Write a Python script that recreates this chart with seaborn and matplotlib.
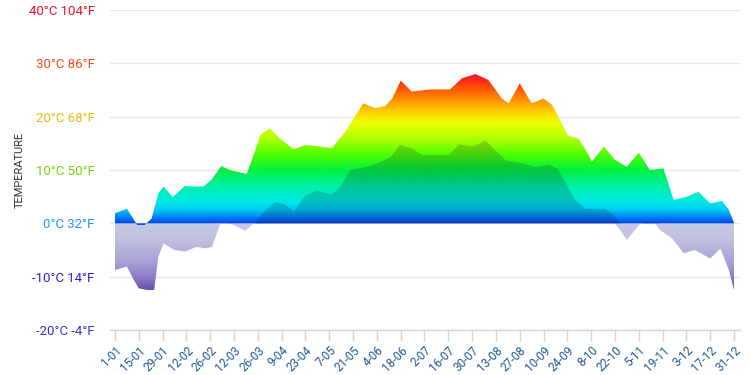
import numpy as np
import pandas as pd
import matplotlib
matplotlib.use("Agg")
import matplotlib.pyplot as plt
import seaborn as sns
from matplotlib.colors import LinearSegmentedColormap

# ---------------------------------------------------------------------
# values (day of year -> temperature in C)
max_days = [0, 7, 10, 13, 17.5, 21.5, 25.5, 28.5, 34, 41, 46, 52, 57, 62.5, 67.5,
            77.5, 81.5, 85.5, 91, 97, 105, 112, 120.5, 127.5, 135.5, 141, 146,
            153, 159, 163, 168, 174.5, 185, 197, 204, 212, 219.5, 227.5, 231.5,
            238, 245, 252, 257, 266.5, 272.5, 276.5, 280.5, 287.5, 294, 301,
            308, 314.5, 322.5, 328.5, 335.5, 343, 350, 357, 361, 364]
max_temp = [1.9, 2.75, 1.25, -0.3, -0.3, 0.9, 5.6, 6.9, 4.9, 7.0, 6.9, 6.9, 8.25,
            10.75, 10.0, 9.25, 12.8, 16.6, 17.8, 15.9, 13.9, 14.7, 14.4, 14.1,
            17.2, 20.0, 22.5, 21.6, 22.0, 23.4, 26.75, 24.7, 25.1, 25.1, 27.2,
            28.0, 26.9, 23.4, 22.5, 26.25, 22.5, 23.4, 22.2, 16.4, 15.9, 13.9,
            11.6, 14.4, 11.9, 10.6, 13.25, 10.0, 10.3, 4.4, 4.9, 5.9, 3.75, 4.2,
            2.5, 0.1]

min_days = [0, 7, 11, 14, 19, 23, 25.5, 28.5, 35, 41, 48, 53, 57, 62, 67.5, 72.5,
            76.5, 81.5, 86.5, 91, 94, 99, 105, 111, 118.5, 126.5, 131.5, 138,
            147, 156, 162, 167.5, 174.5, 180.5, 196, 202, 210, 217.5, 222.5,
            229.5, 239, 247, 255, 260, 265, 270.5, 276.5, 288, 294, 297, 301,
            309, 312, 317.5, 320.5, 327.5, 334.5, 341, 350, 356, 361, 364]
min_temp = [-8.75, -8.1, -10.6, -12.2, -12.5, -12.5, -6.25, -3.75, -5.0, -5.3,
            -4.4, -4.7, -4.4, 0.0, 0.1, -0.75, -1.4, 0.0, 1.9, 3.25, 4.1, 3.75,
            2.4, 5.1, 6.25, 5.5, 6.6, 10.1, 10.6, 11.6, 12.6, 14.8, 14.1, 12.9,
            12.9, 14.9, 14.5, 15.6, 14.1, 11.9, 11.4, 10.6, 11.1, 10.3, 7.5, 4.4,
            2.8, 2.8, 1.25, -1.25, -3.1, 0.0, 0.3, 0.3, -1.25, -2.8, -5.6, -5.0,
            -6.6, -4.7, -8.75, -12.5]

tick_labels = ["1-01", "15-01", "29-01", "12-02", "26-02", "12-03", "26-03",
               "9-04", "23-04", "7-05", "21-05", "4-06", "18-06", "2-07", "16-07",
               "30-07", "13-08", "27-08", "10-09", "24-09", "8-10", "22-10",
               "5-11", "19-11", "3-12", "17-12", "31-12"]
celsius_ticks = [-20, -10, 0, 10, 20, 30, 40]
celsius_colors = ["#3434d0", "#2323d0", "#2196f3", "#6fd800", "#f2b90f",
                  "#f84a1c", "#ea1230"]

# ---------------------------------------------------------------------
hi = pd.DataFrame({"day": max_days, "temp": max_temp})
lo = pd.DataFrame({"day": min_days, "temp": min_temp})

sns.set_theme(style="whitegrid")
plt.rcParams["font.family"] = ["Roboto", "DejaVu Sans"]

fig = plt.figure(figsize=(7.5, 3.75), dpi=100)
ax = fig.add_axes([110 / 750, 45 / 375, 630 / 750, 320 / 375])

px_day = 619 / 364
xmin, xmax = -5 / px_day, 364 + 6 / px_day
ymin, ymax = -20, 40

warm = LinearSegmentedColormap.from_list("warm", [
    (0.0, "#1a30d8"), (1 / 30, "#0044f0"), (2 / 30, "#0078f5"),
    (3.5 / 30, "#00c8f0"), (5 / 30, "#00e8e8"), (8 / 30, "#00f0a8"),
    (11 / 30, "#00f040"), (14 / 30, "#50ff00"), (17 / 30, "#b0ff00"),
    (20 / 30, "#eeff00"), (22 / 30, "#ffd000"), (24 / 30, "#ff9800"),
    (26 / 30, "#ff6000"), (28 / 30, "#ff2818"), (1.0, "#e8104a")])
cold = LinearSegmentedColormap.from_list("cold", [
    (0.0, "#6443ad"), (3 / 13, "#8c7dc6"), (6 / 13, "#a7a3d6"),
    (10 / 13, "#bfc1df"), (1.0, "#c6c9e3")])

# min series below zero: lavender -> purple
lo_neg = ax.fill_between(lo["day"], np.minimum(lo["temp"], 0), 0,
                         color="none", lw=0)
grad = np.linspace(0, 1, 256).reshape(-1, 1)
im = ax.imshow(grad, cmap=cold, aspect="auto", origin="lower",
               extent=[xmin, xmax, -13, 0], zorder=2)
im.set_clip_path(lo_neg.get_paths()[0], transform=ax.transData)

# max series: rainbow by temperature
hi_area = ax.fill_between(hi["day"], hi["temp"], 0, color="none", lw=0)
im2 = ax.imshow(grad, cmap=warm, aspect="auto", origin="lower",
                extent=[xmin, xmax, -1, 29], zorder=3)
im2.set_clip_path(hi_area.get_paths()[0], transform=ax.transData)

# min series above zero: darker overlay
ax.fill_between(lo["day"], np.maximum(lo["temp"], 0), 0,
                color="#0a0a30", alpha=0.18, lw=0, zorder=4)

sns.lineplot(data=hi, x="day", y="temp", ax=ax, lw=0, zorder=5)
sns.lineplot(data=lo, x="day", y="temp", ax=ax, lw=0, zorder=5)

ax.set_xlim(xmin, xmax)
ax.set_ylim(ymin, ymax)
ax.set_axisbelow(True)

ax.set_yticks(celsius_ticks)
ax.set_yticklabels([f"{c}°C {round(c * 9 / 5 + 32)}°F" for c in celsius_ticks],
                   fontsize=9.5)
for lab, col in zip(ax.get_yticklabels(), celsius_colors):
    lab.set_color(col)
ax.tick_params(axis="y", length=0, pad=11)

ax.set_xticks([14 * i for i in range(len(tick_labels))])
ax.set_xticklabels(tick_labels, rotation=45, ha="right", va="top",
                   rotation_mode="anchor", fontsize=8.5, color="#1f5a96")
ax.tick_params(axis="x", length=8, width=1, color="#ccd6eb", pad=2,
               bottom=True)

ax.grid(axis="y", color="#e6e6e6", lw=1)
ax.grid(axis="x", visible=False)
for s in ["top", "left", "right"]:
    ax.spines[s].set_visible(False)
ax.spines["bottom"].set_color("#ccd6eb")
ax.spines["bottom"].set_linewidth(1)

ax.set_xlabel("")
ax.set_ylabel("")
fig.text(20 / 750, 1 - 170 / 375, "TEMPERATURE", rotation=90, ha="center",
         va="center", fontsize=8, color="#333333")

fig.savefig("out.png", dpi=100)
plt.close(fig)
